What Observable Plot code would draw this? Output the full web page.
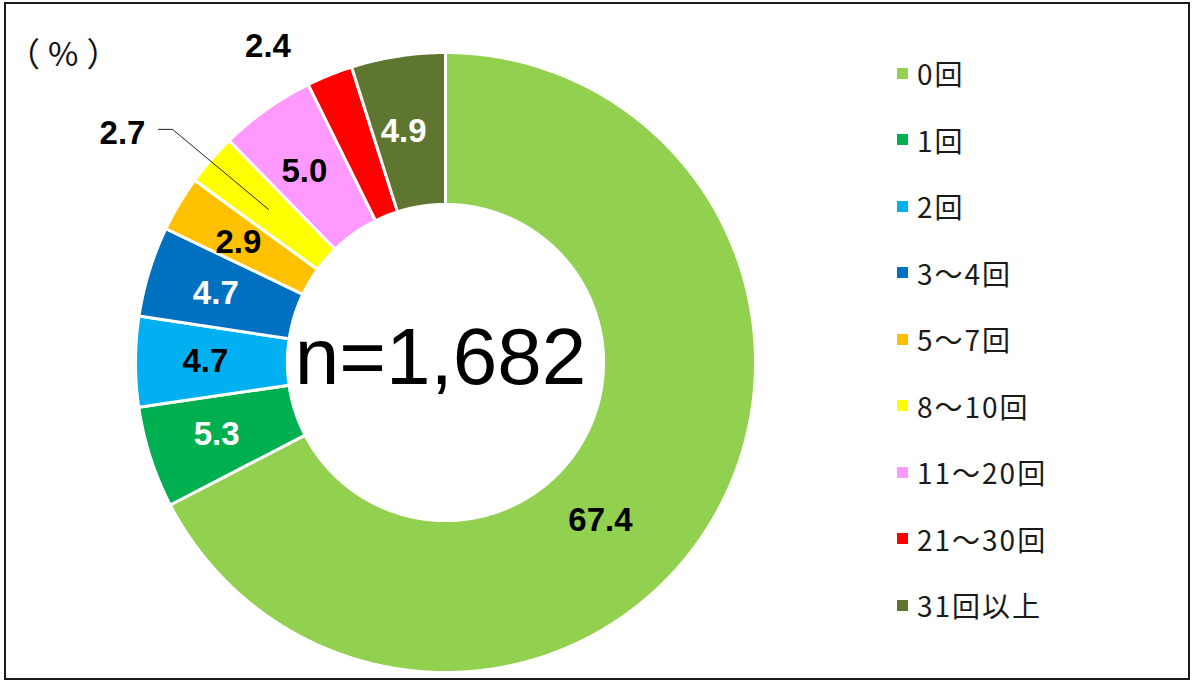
<!DOCTYPE html>
<html>
<head>
<meta charset="utf-8">
<script src="https://cdn.jsdelivr.net/npm/d3@7"></script>
<script src="https://cdn.jsdelivr.net/npm/@observablehq/plot@0.6"></script>
<style>
  html, body { margin: 0; padding: 0; background: #fff; }
  #wrap { position: relative; width: 1192px; height: 682px; overflow: hidden; }
  #frame { position: absolute; left: 4px; top: 2px; width: 1182px; height: 674px; border: 2px solid #1a1a1a; pointer-events: none; }
  #chart { position: absolute; left: 0; top: 0; }
  #unit { position: absolute; left: 7px; top: 32px; font-family: "Noto Sans CJK JP", sans-serif; font-size: 33px; letter-spacing: 8px; color: #111; line-height: 40px; white-space: nowrap; }
  .leg { position: absolute; left: 897px; height: 40px; display: flex; align-items: center; font-family: "Noto Sans CJK JP", sans-serif; font-size: 28px; letter-spacing: 2px; color: #1a1a1a; white-space: nowrap; }
  .leg .sw { width: 11px; height: 11px; margin-right: 9px; flex: none; }
</style>
</head>
<body>
<div id="wrap">
  <div id="chart"></div>
  <div id="unit">（%）</div>
  <div id="frame"></div>
</div>
<script>
// ---- data ----
const categories = ["0回", "1回", "2回", "3～4回", "5～7回", "8～10回", "11～20回", "21～30回", "31回以上"];
const values = [67.4, 5.3, 4.7, 4.7, 2.9, 2.7, 5.0, 2.4, 4.9];
const colors = ["#92D050", "#00B050", "#00B0F0", "#0070C0", "#FFC000", "#FFFF00", "#FF99FF", "#FF0000", "#5F7631"];
const whiteLabelCategories = ["1回", "3～4回", "31回以上"];
const sampleSize = "n=1,682";

// ---- layout ----
const W = 1192, H = 682;
const R = 310, cx = 445, cy = 362;   // donut outer radius / centre in pixels
const inner = 0.51;                 // inner radius as a fraction of outer
const labelR = (1 + inner) / 2;

let acc = 0;
const slices = categories.map((c, i) => {
  const a0 = acc / 100 * 2 * Math.PI;
  acc += values[i];
  const a1 = acc / 100 * 2 * Math.PI;
  const mid = (a0 + a1) / 2;
  return {c, v: values[i], a0, a1, mid,
          lx: labelR * Math.sin(mid), ly: labelR * Math.cos(mid),
          text: values[i].toFixed(1)};
});

const rows = [];
for (const s of slices) {
  const n = Math.max(2, Math.ceil((s.a1 - s.a0) / 0.005));
  for (let k = 0; k <= n; k++) {
    const a = s.a0 + (s.a1 - s.a0) * k / n;
    rows.push({c: s.c, x: Math.sin(a), y: Math.cos(a)});
  }
  for (let k = n; k >= 0; k--) {
    const a = s.a0 + (s.a1 - s.a0) * k / n;
    rows.push({c: s.c, x: inner * Math.sin(a), y: inner * Math.cos(a)});
  }
}

const bySlice = Object.fromEntries(slices.map(s => [s.c, s]));
const special = ["0回", "8～10回", "21～30回"];
const insideWhite = slices.filter(s => !special.includes(s.c) && whiteLabelCategories.includes(s.c));
const insideBlack = slices.filter(s => !special.includes(s.c) && !whiteLabelCategories.includes(s.c));

// leader line for the 8～10回 label
const s8 = bySlice["8～10回"];
const leader = [
  {x: s8.lx, y: s8.ly},
  {x: s8.lx - 96 / R, y: s8.ly + 80 / R},
  {x: s8.lx - 110 / R, y: s8.ly + 80 / R}
];

const labelFont = {fontFamily: "'Liberation Sans', Arial, sans-serif", fontWeight: "bold", fontSize: 33};

const plot = Plot.plot({
  width: W,
  height: H,
  margin: 0,
  x: {domain: [-cx / R, (W - cx) / R], axis: null},
  y: {domain: [-(H - cy) / R, cy / R], axis: null},
  color: {domain: categories, range: colors},
  style: {background: "transparent"},
  marks: [
    Plot.line(rows, {x: "x", y: "y", z: "c", fill: "c", stroke: "white", strokeWidth: 3, curve: "linear-closed"}),
    Plot.text(insideWhite, {x: "lx", y: "ly", text: "text", fill: "white", dx: -6, ...labelFont}),
    Plot.text(insideBlack, {x: "lx", y: "ly", text: "text", fill: "black", dx: -6, ...labelFont}),
    Plot.text([bySlice["0回"]], {x: "lx", y: "ly", text: "text", fill: "black", dx: -45, dy: 36, ...labelFont}),
    Plot.text([bySlice["21～30回"]], {x: "lx", y: "ly", text: "text", fill: "black", dx: -90, dy: -99, ...labelFont}),
    Plot.text([s8], {x: "lx", y: "ly", text: "text", fill: "black", dx: -146, dy: -76, ...labelFont}),
    Plot.line(leader, {x: "x", y: "y", stroke: "#222", strokeWidth: 1}),
    Plot.text([sampleSize], {x: () => 0, y: () => 0, text: d => d, fill: "black", fontSize: 80,
      fontFamily: "'Liberation Sans', Arial, sans-serif", dx: -5, dy: -4})
  ]
});
document.getElementById("chart").appendChild(plot);

// legend
const wrap = document.getElementById("wrap");
categories.forEach((c, i) => {
  const d = document.createElement("div");
  d.className = "leg";
  d.style.top = (73 + i * 66.5 - 20) + "px";
  const sw = document.createElement("span");
  sw.className = "sw";
  sw.style.background = colors[i];
  const t = document.createElement("span");
  t.textContent = c;
  d.appendChild(sw);
  d.appendChild(t);
  wrap.appendChild(d);
});
</script>
</body>
</html>
